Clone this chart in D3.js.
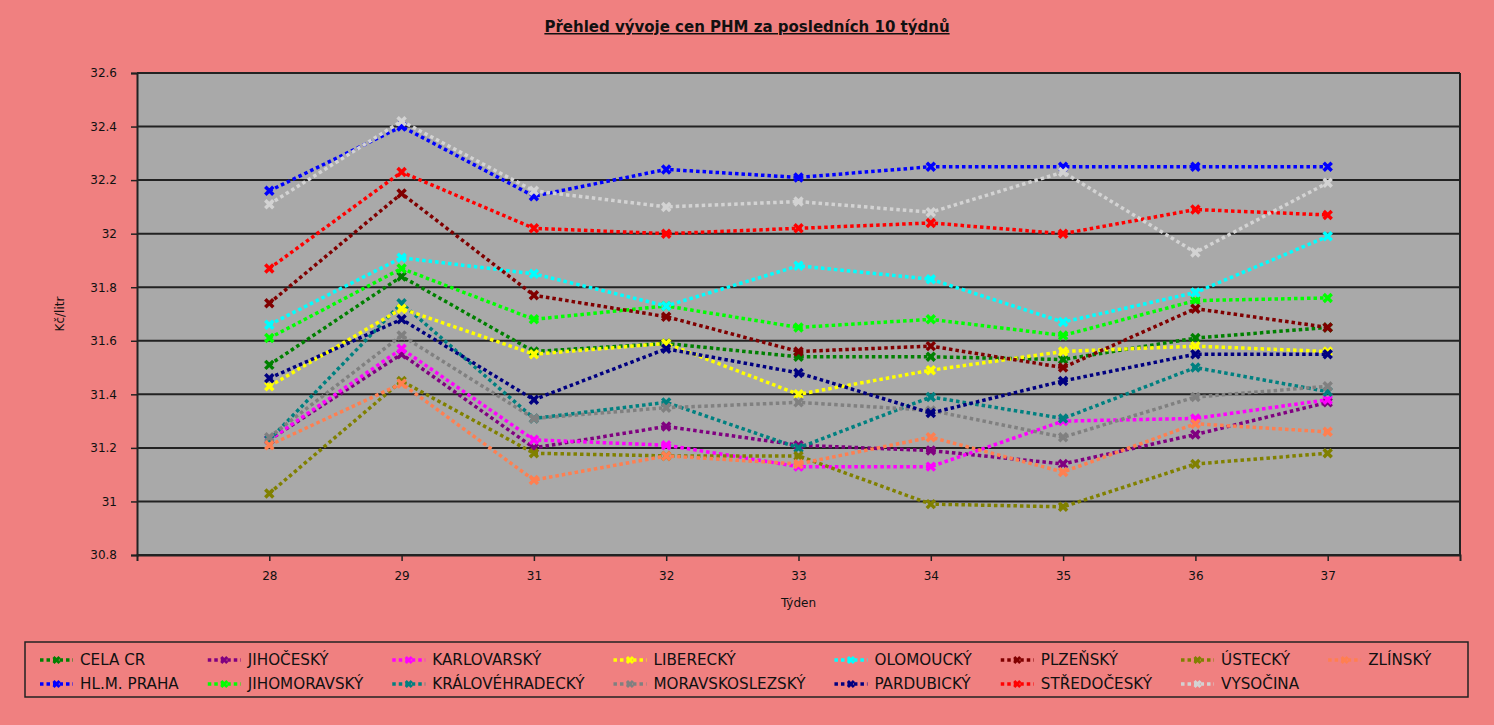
<!DOCTYPE html>
<html>
<head>
<meta charset="utf-8">
<script src="https://cdn.jsdelivr.net/npm/d3@7"></script>
<style>
  body { margin: 0; background: #F08080; }
  svg { display: block; font-family: "DejaVu Sans", sans-serif; }
</style>
</head>
<body>
<svg id="chart" width="1494" height="725"></svg>
<script>
const weeks = ["28", "29", "31", "32", "33", "34", "35", "36", "37"];
const yTicks = [30.8, 31, 31.2, 31.4, 31.6, 31.8, 32, 32.2, 32.4, 32.6];

// regions in legend order (column-major, 2 rows)
const regionNames = ["CELA CR", "HL.M. PRAHA", "JIHOČESKÝ", "JIHOMORAVSKÝ", "KARLOVARSKÝ",
    "KRÁLOVÉHRADECKÝ", "LIBERECKÝ", "MORAVSKOSLEZSKÝ", "OLOMOUCKÝ", "PARDUBICKÝ",
    "PLZEŇSKÝ", "STŘEDOČESKÝ", "ÚSTECKÝ", "VYSOČINA", "ZLÍNSKÝ"];
const regionColors = ["#008000", "#0000FF", "#800080", "#00FF00", "#FF00FF",
    "#008080", "#FFFF00", "#808080", "#00FFFF", "#000080",
    "#800000", "#FF0000", "#808000", "#D3D3D3", "#FF7F50"];

const celaCr = [31.51, 31.84, 31.56, 31.59, 31.54, 31.54, 31.53, 31.61, 31.65];
const praha = [32.16, 32.40, 32.14, 32.24, 32.21, 32.25, 32.25, 32.25, 32.25];
const jihocesky = [31.23, 31.55, 31.20, 31.28, 31.21, 31.19, 31.14, 31.25, 31.37];
const jihomoravsky = [31.61, 31.87, 31.68, 31.73, 31.65, 31.68, 31.62, 31.75, 31.76];
const karlovarsky = [31.23, 31.57, 31.23, 31.21, 31.13, 31.13, 31.30, 31.31, 31.38];
const kralovehradecky = [31.23, 31.74, 31.31, 31.37, 31.20, 31.39, 31.31, 31.50, 31.41];
const liberecky = [31.43, 31.72, 31.55, 31.59, 31.40, 31.49, 31.56, 31.58, 31.56];
const moravskoslezsky = [31.24, 31.62, 31.31, 31.35, 31.37, 31.34, 31.24, 31.39, 31.43];
const olomoucky = [31.66, 31.91, 31.85, 31.73, 31.88, 31.83, 31.67, 31.78, 31.99];
const pardubicky = [31.46, 31.68, 31.38, 31.57, 31.48, 31.33, 31.45, 31.55, 31.55];
const plzensky = [31.74, 32.15, 31.77, 31.69, 31.56, 31.58, 31.50, 31.72, 31.65];
const stredocesky = [31.87, 32.23, 32.02, 32.00, 32.02, 32.04, 32.00, 32.09, 32.07];
const ustecky = [31.03, 31.45, 31.18, 31.17, 31.17, 30.99, 30.98, 31.14, 31.18];
const vysocina = [32.11, 32.42, 32.16, 32.10, 32.12, 32.08, 32.23, 31.93, 32.19];
const zlinsky = [31.21, 31.44, 31.08, 31.17, 31.14, 31.24, 31.11, 31.29, 31.26];

const regionValues = [celaCr, praha, jihocesky, jihomoravsky, karlovarsky,
    kralovehradecky, liberecky, moravskoslezsky, olomoucky, pardubicky,
    plzensky, stredocesky, ustecky, vysocina, zlinsky];

const series = regionNames.map((name, i) => ({
    name, color: regionColors[i],
    values: regionValues[i].map((v, j) => ({ week: weeks[j], value: v }))
}));

const svg = d3.select("#chart");
const plot = { left: 137, right: 1460, top: 73, bottom: 555 };

const x = d3.scalePoint().domain(weeks).range([plot.left, plot.right]).padding(1);
const y = d3.scaleLinear().domain([30.8, 32.6]).range([plot.bottom, plot.top]);

// title
svg.append("text")
    .attr("x", 747).attr("y", 32)
    .attr("text-anchor", "middle")
    .attr("font-size", 15).attr("font-weight", "bold")
    .attr("text-decoration", "underline")
    .attr("fill", "#111")
    .text("Přehled vývoje cen PHM za posledních 10 týdnů");

// plot background
svg.append("rect")
    .attr("x", plot.left).attr("y", plot.top)
    .attr("width", plot.right - plot.left).attr("height", plot.bottom - plot.top)
    .attr("fill", "#A9A9A9");

// gridlines
svg.append("g")
    .selectAll("line")
    .data(yTicks)
    .join("line")
    .attr("x1", plot.left).attr("x2", plot.right)
    .attr("y1", d => y(d)).attr("y2", d => y(d))
    .attr("stroke", "#222").attr("stroke-width", 2);

// y axis
const yAxis = svg.append("g")
    .attr("transform", `translate(${plot.left},0)`)
    .call(d3.axisLeft(y).tickValues(yTicks).tickSize(6).tickPadding(14)
        .tickFormat(d => String(+d.toFixed(1))));
yAxis.select(".domain").attr("stroke", "#222").attr("stroke-width", 2);
yAxis.selectAll(".tick line").attr("stroke", "#222").attr("stroke-width", 1.5);
yAxis.selectAll("text").attr("font-size", 12).attr("fill", "#111")
    .attr("font-family", "DejaVu Sans");

// x axis
const xAxis = svg.append("g")
    .attr("transform", `translate(0,${plot.bottom})`)
    .call(d3.axisBottom(x).tickSize(6).tickPadding(10));
xAxis.select(".domain").attr("stroke", "#222").attr("stroke-width", 2);
xAxis.selectAll(".tick line").attr("stroke", "#222").attr("stroke-width", 1.5);
xAxis.selectAll("text").attr("font-size", 12).attr("fill", "#111")
    .attr("font-family", "DejaVu Sans");

// right border
svg.append("line")
    .attr("x1", plot.right).attr("x2", plot.right)
    .attr("y1", plot.top).attr("y2", plot.bottom)
    .attr("stroke", "#222").attr("stroke-width", 2);

// axis titles
svg.append("text")
    .attr("x", (plot.left + plot.right) / 2).attr("y", 607)
    .attr("text-anchor", "middle").attr("font-size", 12).attr("fill", "#111")
    .text("Týden");
svg.append("text")
    .attr("transform", `translate(64,${(plot.top + plot.bottom) / 2}) rotate(-90)`)
    .attr("text-anchor", "middle").attr("font-size", 12).attr("fill", "#111")
    .text("Kč/litr");

// lines
const line = d3.line().x(d => x(d.week)).y(d => y(d.value));
const xMark = "M-4,-4L4,4M4,-4L-4,4";

const seriesG = svg.append("g")
    .selectAll("g")
    .data(series)
    .join("g");

seriesG.append("path")
    .attr("d", d => line(d.values))
    .attr("fill", "none")
    .attr("stroke", d => d.color)
    .attr("stroke-width", 3.5)
    .attr("stroke-dasharray", "3.5,3");

seriesG.selectAll("path.mark")
    .data(d => d.values.map(v => ({ ...v, color: d.color })))
    .join("path")
    .attr("class", "mark")
    .attr("d", xMark)
    .attr("transform", d => `translate(${x(d.week)},${y(d.value)})`)
    .attr("stroke", d => d.color)
    .attr("stroke-width", 3.5)
    .attr("fill", "none");

// legend
const legendBox = { left: 25, top: 642, right: 1468, bottom: 697 };
svg.append("rect")
    .attr("x", legendBox.left).attr("y", legendBox.top)
    .attr("width", legendBox.right - legendBox.left)
    .attr("height", legendBox.bottom - legendBox.top)
    .attr("fill", "none").attr("stroke", "#222").attr("stroke-width", 1.5);

const legend = svg.append("g").attr("font-size", 15.2).attr("fill", "#111");
const rowY = [660, 684];
let colX = 40;
for (let c = 0; c * 2 < series.length; c++) {
    let maxW = 0;
    for (let r = 0; r < 2; r++) {
        const s = series[c * 2 + r];
        if (!s) continue;
        const g = legend.append("g").attr("transform", `translate(${colX},${rowY[r]})`);
        g.append("line")
            .attr("x1", 0).attr("x2", 33).attr("y1", 0).attr("y2", 0)
            .attr("stroke", s.color).attr("stroke-width", 3.5)
            .attr("stroke-dasharray", "3.5,3");
        g.append("path")
            .attr("d", "M-3,-3L3,3M3,-3L-3,3")
            .attr("transform", "translate(16.5,0)")
            .attr("stroke", s.color).attr("stroke-width", 3);
        const t = g.append("text")
            .attr("x", 40).attr("dy", "0.36em")
            .text(s.name);
        maxW = Math.max(maxW, t.node().getComputedTextLength());
    }
    colX += 40 + maxW + 29;
}
</script>
</body>
</html>
